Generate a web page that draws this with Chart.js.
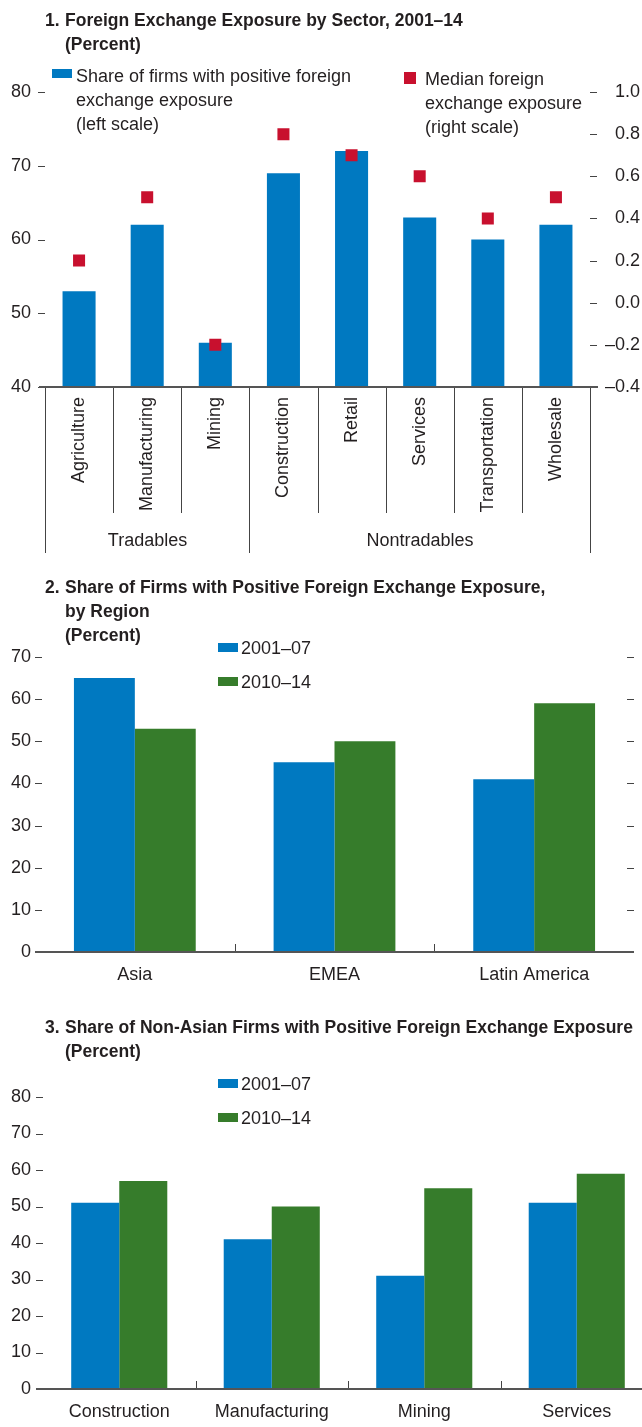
<!DOCTYPE html>
<html lang="en">
<head>
<meta charset="UTF-8">
<title>Foreign Exchange Exposure</title>
<script src="https://cdn.jsdelivr.net/npm/chart.js"></script>
<style>
    html, body { margin: 0; padding: 0; overflow: hidden; background: #fff; }
    body {
        position: relative;
        width: 642px;
        height: 1427px;
        font-family: "Liberation Sans", Arial, sans-serif;
        color: #231f20;
    }
    canvas { position: absolute; left: 0; }
    .title { position: absolute; left: 45px; font-weight: bold; font-size: 17.5px; line-height: 24px; }
    .title .num { position: absolute; left: 0; top: 0; }
    .title .txt { margin-left: 20px; white-space: nowrap; }
    .legend { position: absolute; font-size: 18px; line-height: 24px; white-space: nowrap; }
    .swatch { position: absolute; }
</style>
</head>
<body>

<canvas id="c1" width="642" height="570" style="top:0px"></canvas>
<canvas id="c2" width="642" height="420" style="top:580px"></canvas>
<canvas id="c3" width="660" height="417" style="top:1010px"></canvas>

<!-- chart 1 header -->
<div class="title" style="top:8px"><span class="num">1.</span><div class="txt">Foreign Exchange Exposure by Sector, 2001–14<br>(Percent)</div></div>
<div class="swatch" style="left:52px; top:69px; width:20px; height:9px; background:#0079C1"></div>
<div class="legend" style="left:76px; top:64px">Share of firms with positive foreign<br>exchange exposure<br>(left scale)</div>
<div class="swatch" style="left:404px; top:72px; width:12px; height:12px; background:#C8102E"></div>
<div class="legend" style="left:425px; top:67px">Median foreign<br>exchange exposure<br>(right scale)</div>

<!-- chart 2 header -->
<div class="title" style="top:575px"><span class="num">2.</span><div class="txt">Share of Firms with Positive Foreign Exchange Exposure,<br>by Region<br>(Percent)</div></div>
<div class="swatch" style="left:218px; top:643px; width:20px; height:9px; background:#0079C1"></div>
<div class="legend" style="left:241px; top:636px">2001–07</div>
<div class="swatch" style="left:218px; top:677px; width:20px; height:9px; background:#367C2B"></div>
<div class="legend" style="left:241px; top:670px">2010–14</div>

<!-- chart 3 header -->
<div class="title" style="top:1015px"><span class="num">3.</span><div class="txt">Share of Non-Asian Firms with Positive Foreign Exchange Exposure<br>(Percent)</div></div>
<div class="swatch" style="left:218px; top:1079px; width:20px; height:9px; background:#0079C1"></div>
<div class="legend" style="left:241px; top:1072px">2001–07</div>
<div class="swatch" style="left:218px; top:1113px; width:20px; height:9px; background:#367C2B"></div>
<div class="legend" style="left:241px; top:1106px">2010–14</div>

<script>
    // ---- data ----
    const sectors = ['Agriculture', 'Manufacturing', 'Mining', 'Construction', 'Retail', 'Services', 'Transportation', 'Wholesale'];
    const sectorGroups = [
        { label: 'Tradables', first: 0, last: 2 },
        { label: 'Nontradables', first: 3, last: 7 }
    ];
    const shareBySector = [53, 62, 46, 69, 72, 63, 60, 62];
    const medianExposure = [0.2, 0.5, -0.2, 0.8, 0.7, 0.6, 0.4, 0.5];

    const regions = ['Asia', 'EMEA', 'Latin America'];
    const region0107 = [65, 45, 41];
    const region1014 = [53, 50, 59];

    const nonAsianSectors = ['Construction', 'Manufacturing', 'Mining', 'Services'];
    const nonAsian0107 = [51, 41, 31, 51];
    const nonAsian1014 = [57, 50, 55, 59];

    const periods = ['2001–07', '2010–14'];

    // ---- styling ----
    const BLUE = '#0079C1';
    const GREEN = '#367C2B';
    const RED = '#C8102E';
    const INK = '#231f20';
    const FONT = { family: '"Liberation Sans", Arial, sans-serif', size: 18 };

    // tick marks, baseline and category dividers drawn from the chart's scales
    const axisMarks = {
        id: 'axisMarks',
        afterDraw(chart, args, o) {
            const { ctx, chartArea: a, scales } = chart;
            const x = scales.x;
            ctx.save();
            ctx.strokeStyle = '#444';
            ctx.lineWidth = 1;

            (o.yTicks || []).forEach(t => {
                const s = scales[t.axis];
                const x0 = t.side === 'left' ? a.left : a.right;
                s.ticks.forEach(tk => {
                    const py = Math.round(s.getPixelForValue(tk.value)) + 0.5;
                    ctx.beginPath();
                    ctx.moveTo(x0 + t.from, py);
                    ctx.lineTo(x0 + t.to, py);
                    ctx.stroke();
                });
            });

            const n = x.ticks.length;
            const step = x.getPixelForTick(1) - x.getPixelForTick(0);
            const edge = i => Math.round(x.getPixelForTick(0) - step / 2 + i * step) + 0.5;

            if (o.groups) {
                const bounds = new Set([0]);
                o.groups.forEach(g => bounds.add(g.last + 1));
                for (let i = 0; i <= n; i++) {
                    const bx = edge(i);
                    ctx.beginPath();
                    ctx.moveTo(bx, a.bottom);
                    ctx.lineTo(bx, a.bottom + (bounds.has(i) ? o.groupDrop : o.catDrop));
                    ctx.stroke();
                }
                ctx.fillStyle = INK;
                ctx.font = FONT.size + 'px ' + FONT.family;
                ctx.textAlign = 'center';
                ctx.textBaseline = 'middle';
                o.groups.forEach(g => {
                    const cx = (edge(g.first) + edge(g.last + 1)) / 2;
                    ctx.fillText(g.label, cx, a.bottom + o.groupLabelY);
                });
            } else {
                for (let i = 1; i < n; i++) {
                    const bx = edge(i);
                    ctx.beginPath();
                    ctx.moveTo(bx, a.bottom);
                    ctx.lineTo(bx, a.bottom - 8);
                    ctx.stroke();
                }
            }

            ctx.strokeStyle = '#555';
            ctx.lineWidth = 2;
            ctx.beginPath();
            ctx.moveTo(a.left + o.baseFrom, a.bottom);
            ctx.lineTo(a.right + o.baseTo, a.bottom);
            ctx.stroke();
            ctx.restore();
        }
    };

    const noGrid = { display: false, drawTicks: false };
    const noBorder = { display: false };

    // ---- chart 1 ----
    new Chart(document.getElementById('c1'), {
        type: 'bar',
        data: {
            labels: sectors,
            datasets: [
                {
                    type: 'line',
                    label: 'Median foreign exchange exposure (right scale)',
                    data: medianExposure,
                    yAxisID: 'y2',
                    showLine: false,
                    pointStyle: 'rect',
                    pointRadius: 8.5,
                    pointBackgroundColor: RED,
                    pointBorderWidth: 0,
                    order: 0
                },
                {
                    type: 'bar',
                    label: 'Share of firms with positive foreign exchange exposure (left scale)',
                    data: shareBySector,
                    yAxisID: 'y',
                    backgroundColor: BLUE,
                    categoryPercentage: 0.485,
                    barPercentage: 1,
                    order: 1
                }
            ]
        },
        options: {
            responsive: false,
            animation: false,
            layout: { padding: { top: 92, right: 2, left: 0, bottom: 0 } },
            plugins: {
                legend: { display: false },
                tooltip: { enabled: false },
                axisMarks: {
                    yTicks: [
                        { axis: 'y', side: 'left', from: -7, to: 0 },
                        { axis: 'y2', side: 'right', from: 0, to: 7 }
                    ],
                    groups: sectorGroups,
                    catDrop: 126,
                    groupDrop: 166,
                    groupLabelY: 154,
                    baseFrom: -6,
                    baseTo: 8
                }
            },
            scales: {
                x: {
                    grid: noGrid, border: noBorder,
                    ticks: { minRotation: 90, maxRotation: 90, autoSkip: false, padding: 10, font: FONT, color: INK },
                    afterFit: s => { s.height = 183; }
                },
                y: {
                    position: 'left', min: 40, max: 80,
                    grid: noGrid, border: noBorder,
                    ticks: { stepSize: 10, padding: 14, font: FONT, color: INK },
                    afterFit: s => { s.width = 45; }
                },
                y2: {
                    position: 'right', min: -0.4, max: 1.0,
                    grid: noGrid, border: noBorder,
                    ticks: {
                        stepSize: 0.2, padding: 0, crossAlign: 'far', font: FONT, color: INK,
                        callback: v => (v < -1e-9 ? '–' : '') + Math.abs(v).toFixed(1)
                    },
                    afterFit: s => { s.width = 50; }
                }
            }
        },
        plugins: [axisMarks]
    });

    // ---- chart 2 ----
    new Chart(document.getElementById('c2'), {
        type: 'bar',
        data: {
            labels: regions,
            datasets: [
                { label: periods[0], data: region0107, backgroundColor: BLUE, categoryPercentage: 0.61, barPercentage: 1 },
                { label: periods[1], data: region1014, backgroundColor: GREEN, categoryPercentage: 0.61, barPercentage: 1 }
            ]
        },
        options: {
            responsive: false,
            animation: false,
            layout: { padding: { top: 77, right: 8, left: 0, bottom: 0 } },
            plugins: {
                legend: { display: false },
                tooltip: { enabled: false },
                axisMarks: {
                    yTicks: [
                        { axis: 'y', side: 'left', from: 0, to: 7 },
                        { axis: 'y', side: 'right', from: -7, to: 0 }
                    ],
                    baseFrom: 0,
                    baseTo: 0
                }
            },
            scales: {
                x: {
                    grid: noGrid, border: noBorder,
                    ticks: { padding: 12, font: FONT, color: INK },
                    afterFit: s => { s.height = 48; }
                },
                y: {
                    min: 0, max: 70,
                    grid: noGrid, border: noBorder,
                    ticks: { stepSize: 10, padding: 4, font: FONT, color: INK },
                    afterFit: s => { s.width = 35; }
                }
            }
        },
        plugins: [axisMarks]
    });

    // ---- chart 3 ----
    new Chart(document.getElementById('c3'), {
        type: 'bar',
        data: {
            labels: nonAsianSectors,
            datasets: [
                { label: periods[0], data: nonAsian0107, backgroundColor: BLUE, categoryPercentage: 0.63, barPercentage: 1 },
                { label: periods[1], data: nonAsian1014, backgroundColor: GREEN, categoryPercentage: 0.63, barPercentage: 1 }
            ]
        },
        options: {
            responsive: false,
            animation: false,
            layout: { padding: { top: 87, right: 7, left: 0, bottom: 0 } },
            plugins: {
                legend: { display: false },
                tooltip: { enabled: false },
                axisMarks: {
                    yTicks: [
                        { axis: 'y', side: 'left', from: -7, to: 0 }
                    ],
                    baseFrom: -7,
                    baseTo: 0
                }
            },
            scales: {
                x: {
                    grid: noGrid, border: noBorder,
                    ticks: { padding: 12, font: FONT, color: INK },
                    afterFit: s => { s.height = 38; }
                },
                y: {
                    min: 0, max: 80,
                    grid: noGrid, border: noBorder,
                    ticks: { stepSize: 10, padding: 12, font: FONT, color: INK },
                    afterFit: s => { s.width = 43; }
                }
            }
        },
        plugins: [axisMarks]
    });
</script>

</body>
</html>
